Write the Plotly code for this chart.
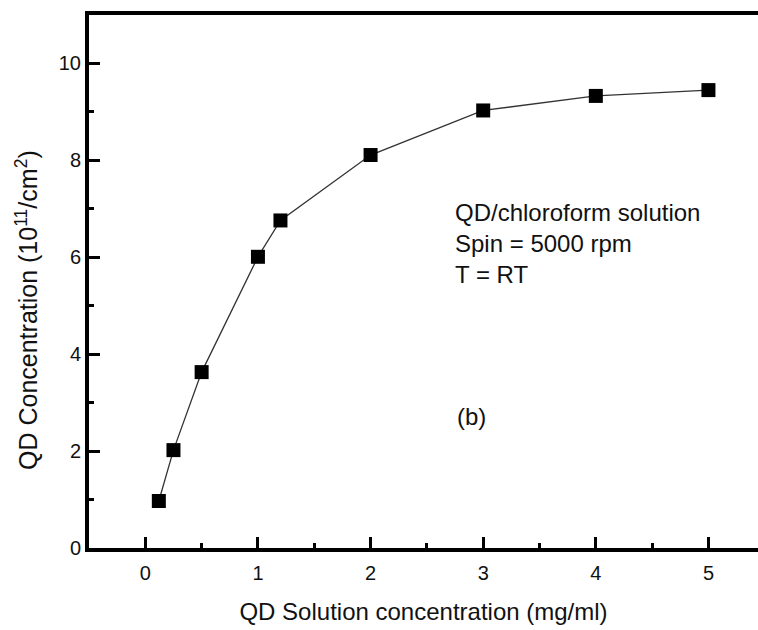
import plotly.graph_objects as go

x_conc = [0.12, 0.25, 0.5, 1.0, 1.2, 2.0, 3.0, 4.0, 5.0]
qd_conc = [0.97, 2.02, 3.63, 6.01, 6.76, 8.11, 9.03, 9.33, 9.45]
x_ticks = [0, 1, 2, 3, 4, 5]
y_ticks = [0, 2, 4, 6, 8, 10]
note_lines = ["QD/chloroform solution", "Spin = 5000 rpm", "T = RT"]
panel_label = "(b)"
x_title = "QD Solution concentration (mg/ml)"
y_title = "QD Concentration (10<sup>11</sup>/cm<sup>2</sup>)"

FONT = "Liberation Sans, Arial, sans-serif"
TXT = "#111111"

fig = go.Figure()
fig.add_trace(go.Scatter(
    x=x_conc, y=qd_conc, mode="lines+markers",
    line=dict(color="#333333", width=1.3),
    marker=dict(symbol="square", size=14, color="black"),
    showlegend=False,
))

fig.add_annotation(
    x=2.73, y=6.29, xref="x", yref="y", xanchor="left", yanchor="middle",
    text="<br>".join(note_lines), align="left", showarrow=False,
    font=dict(family=FONT, size=24, color=TXT),
)
fig.add_annotation(
    x=2.90, y=2.71, xref="x", yref="y", xanchor="center", yanchor="middle",
    text=panel_label, showarrow=False,
    font=dict(family=FONT, size=24, color=TXT),
)
fig.add_annotation(
    x=-0.0927, y=0.4465, xref="paper", yref="paper", xanchor="center", yanchor="middle",
    text=y_title, textangle=-90, showarrow=False,
    font=dict(family=FONT, size=25, color=TXT),
)

axis_common = dict(
    showgrid=False, zeroline=False, showline=True, linecolor="black",
    linewidth=4, ticks="inside", tickwidth=3, ticklen=11,
    tickcolor="black", tickfont=dict(family=FONT, size=20, color=TXT),
)

fig.update_xaxes(
    **axis_common, range=[-0.5, 5.44], tickvals=x_ticks, mirror=True,
    ticklabelstandoff=4,
    minor=dict(ticks="inside", dtick=0.5, tick0=0, ticklen=5, tickwidth=3, tickcolor="black"),
    title=dict(text=x_title, font=dict(family=FONT, size=24, color=TXT), standoff=21),
)
fig.update_yaxes(
    **axis_common, range=[0, 11], tickvals=y_ticks, mirror=False,
    minor=dict(ticks="inside", dtick=1, tick0=0, ticklen=5, tickwidth=3, tickcolor="black"),
)

fig.update_layout(
    width=758, height=630,
    margin=dict(l=89, r=0, t=15, b=82),
    plot_bgcolor="white", paper_bgcolor="white",
)

fig.write_html("out.html")
